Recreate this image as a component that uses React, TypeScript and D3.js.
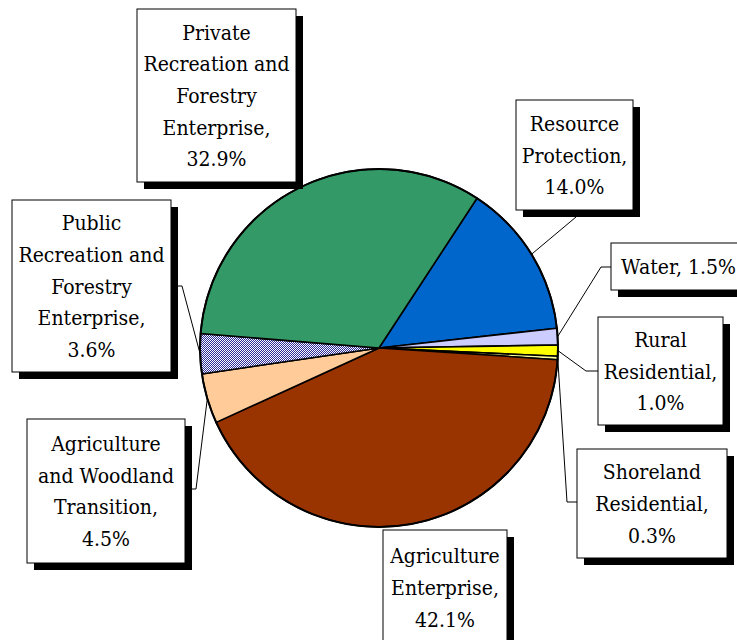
import React from "react";
import * as d3 from "d3";

const categories = [
  "Resource Protection",
  "Water",
  "Rural Residential",
  "Shoreland Residential",
  "Agriculture Enterprise",
  "Agriculture and Woodland Transition",
  "Public Recreation and Forestry Enterprise",
  "Private Recreation and Forestry Enterprise",
];
const values = [14.0, 1.5, 1.0, 0.3, 42.1, 4.5, 3.6, 32.9];
const labelLines = [
  ["Resource", "Protection,", "14.0%"],
  ["Water, 1.5%"],
  ["Rural", "Residential,", "1.0%"],
  ["Shoreland", "Residential,", "0.3%"],
  ["Agriculture", "Enterprise,", "42.1%"],
  ["Agriculture", "and Woodland", "Transition,", "4.5%"],
  ["Public", "Recreation and", "Forestry", "Enterprise,", "3.6%"],
  ["Private", "Recreation and", "Forestry", "Enterprise,", "32.9%"],
];
const colors = [
  "#0066CC",
  "#CCCCFF",
  "#FFFF00",
  "#FFFF99",
  "#993300",
  "#FFCC99",
  "url(#hatch)",
  "#339966",
];

// layout: label boxes [x, y, w, h] and leader elbow/attach points
const boxes: [number, number, number, number][] = [
  [516, 100, 117, 110],
  [611, 243, 135, 47],
  [598, 317, 125, 108],
  [577, 449, 150, 109],
  [383, 530, 124, 115],
  [27, 419, 158, 144],
  [12, 200, 159, 172],
  [137, 9, 159, 173],
];
const leaders: [number, number][][] = [
  [[576, 217]],
  [[601, 267], [611, 267]],
  [[586, 371], [598, 371]],
  [[567, 502], [577, 502]],
  [],
  [[196, 489], [185, 489]],
  [[182, 286], [171, 286]],
  [],
];

const W = 737;
const H = 640;
const cx = 379;
const cy = 348;
const R = 179;

const FONT = "DejaVu Serif";
const fontSize = 21;
const scaleX = 0.9;
const lh = 31.7;

export default function App() {
  const startAngle = (33.2 * Math.PI) / 180;
  const pie = d3
    .pie<number>()
    .sort(null)
    .value((d) => d)
    .startAngle(startAngle)
    .endAngle(startAngle + 2 * Math.PI);
  const arcs = pie(values);
  const arc = d3.arc<d3.PieArcDatum<number>>().innerRadius(0).outerRadius(R);

  return (
    <svg
      width={W}
      height={H}
      style={{ position: "absolute", left: 0, top: 0, background: "#fff" }}
    >
      <defs>
        <pattern id="hatch" width="2" height="2" patternUnits="userSpaceOnUse">
          <rect width="2" height="2" fill="#ffffff" />
          <rect width="1" height="1" fill="#2b2b9a" />
          <rect x="1" y="1" width="1" height="1" fill="#2b2b9a" />
        </pattern>
      </defs>
      <rect width={W} height={H} fill="#fff" />
      <g transform={`translate(${cx},${cy})`}>
        {arcs.map((a, i) => (
          <path
            key={categories[i]}
            d={arc(a) || ""}
            fill={colors[i]}
            stroke="#000"
            strokeWidth={1.6}
            strokeLinejoin="round"
          />
        ))}
        <circle r={R} fill="none" stroke="#000" strokeWidth={2} />
      </g>
      {arcs.map((a, i) => {
        if (leaders[i].length === 0) return null;
        const mid = (a.startAngle + a.endAngle) / 2;
        const px = cx + R * Math.sin(mid);
        const py = cy - R * Math.cos(mid);
        const pts = [[px, py], ...leaders[i]] as [number, number][];
        return (
          <path
            key={"l" + i}
            d={d3.line()(pts) || ""}
            fill="none"
            stroke="#000"
            strokeWidth={1}
          />
        );
      })}
      {boxes.map(([x, y, w, h], i) => {
        const lines = labelLines[i];
        const midY = y + h / 2;
        const firstY = midY - ((lines.length - 1) * lh) / 2;
        return (
          <g key={"b" + i}>
            <rect x={x + 7} y={y + 7} width={w} height={h} fill="#000" />
            <rect
              x={x}
              y={y}
              width={w}
              height={h}
              fill="#fff"
              stroke="#000"
              strokeWidth={1}
            />
            <text
              transform={`translate(${x + w / 2},0) scale(${scaleX},1)`}
              textAnchor="middle"
              fontFamily={FONT}
              fontSize={fontSize}
              fill="#000"
            >
              {lines.map((t, j) => (
                <tspan key={j} x={0} y={firstY + j * lh + fontSize * 0.36}>
                  {t}
                </tspan>
              ))}
            </text>
          </g>
        );
      })}
    </svg>
  );
}
